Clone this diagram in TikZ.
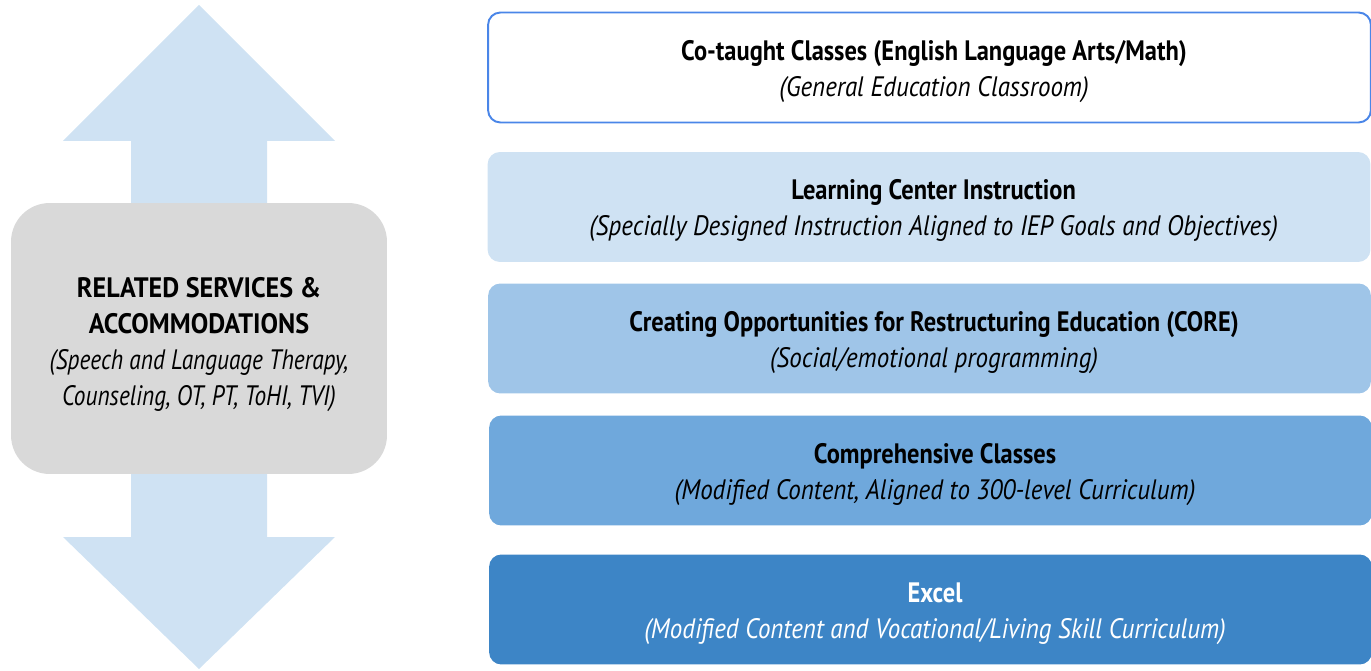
\documentclass[tikz,border=0pt]{standalone}
\usepackage{fontspec}
\setmainfont{PT Sans}
\newfontfamily\lefthead[FakeStretch=0.93]{PT Sans}
\newfontfamily\leftsub[FakeStretch=0.83]{PT Sans}
\newfontfamily\levelhead[FakeStretch=0.87]{PT Sans}
\newfontfamily\levelsub[FakeStretch=0.89]{PT Sans}
\definecolor{arrowblue}{HTML}{CFE2F3}
\definecolor{boxgray}{HTML}{D9D9D9}
\definecolor{lineblue}{HTML}{4A86E8}
\definecolor{levela}{HTML}{CFE2F3}
\definecolor{levelb}{HTML}{9FC5E8}
\definecolor{levelc}{HTML}{6FA8DC}
\definecolor{leveld}{HTML}{3D85C6}
\newcommand{\lhead}[1]{{\levelhead\bfseries #1}}
\newcommand{\lsub}[1]{{\levelsub\itshape #1}}

\begin{document}
\begin{tikzpicture}[x=0.02cm,y=-0.02cm]
\tikzset{every node/.style={inner sep=0pt, align=center},
  level/.style={rounded corners=7pt, minimum width=17.66cm, minimum height=2.2cm},
  leveltext/.style={xshift=2.6pt, yshift=-2.2pt, font=\fontsize{16}{20.5}\selectfont}}
\useasboundingbox (0,0) rectangle (1371,671);
% up and down arrow behind the services box
\fill[arrowblue] (199,5) -- (335,141) -- (267,141) -- (267,537) -- (335,537)
  -- (199,669) -- (63,537) -- (131,537) -- (131,141) -- (63,141) -- cycle;
\node (services) [fill=boxgray, rounded corners=22pt, minimum width=7.52cm,
  minimum height=5.42cm] at (199,338.5) {};
\node (servicestxt) [yshift=-3.5pt, font=\fontsize{16}{20.5}\selectfont] at (services)
  {{\lefthead\bfseries RELATED SERVICES \&}\\ {\lefthead\bfseries ACCOMMODATIONS}\\
   {\leftsub\itshape (Speech and Language Therapy,}\\
   {\leftsub\itshape Counseling, OT, PT, ToHI, TVI)}};
% levels
\node (cotaught) [level, draw=lineblue, line width=1.1pt, fill=white] at (929.5,67.5) {};
\node (center) [level, fill=levela] at (929,207) {};
\node (core) [level, fill=levelb] at (929.5,338.5) {};
\node (compr) [level, fill=levelc] at (930.5,470.5) {};
\node (excel) [level, fill=leveld] at (930.5,609.5) {};
\node (cotaughttxt) [leveltext] at (cotaught.center)
  {\lhead{Co-taught Classes (English Language Arts/Math)}\\
   \lsub{(General Education Classroom)}};
\node (centertxt) [leveltext] at (center.center)
  {\lhead{Learning Center Instruction}\\
   \lsub{(Specially Designed Instruction Aligned to IEP Goals and Objectives)}};
\node (coretxt) [leveltext] at (core.center)
  {\lhead{Creating Opportunities for Restructuring Education (CORE)}\\
   \lsub{(Social/emotional programming)}};
\node (comprtxt) [leveltext] at (compr.center)
  {\lhead{Comprehensive Classes}\\
   \lsub{(Modified Content, Aligned to 300-level Curriculum)}};
\node (exceltxt) [leveltext, text=white] at (excel.center)
  {\lhead{Excel}\\
   \lsub{(Modified Content and Vocational/Living Skill Curriculum)}};
\end{tikzpicture}
\end{document}
